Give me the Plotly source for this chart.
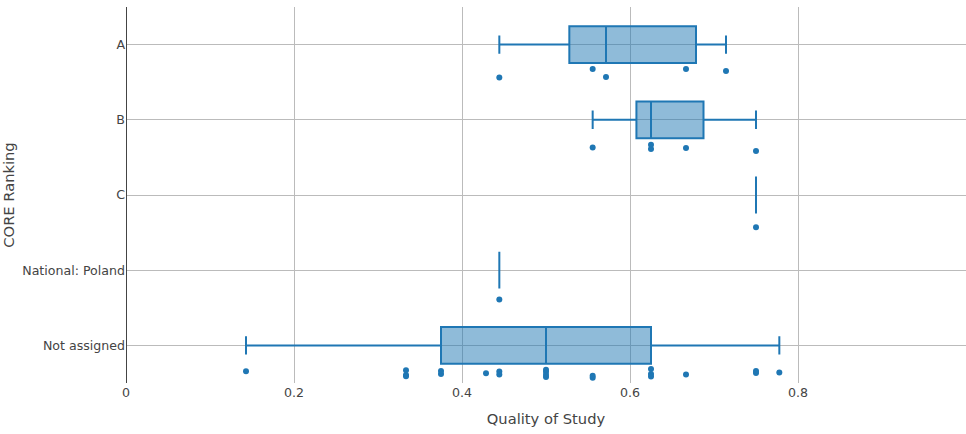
import plotly.graph_objects as go

categories = ["A", "B", "C", "National: Poland", "Not assigned"]
values_a = [4/9, 5/9, 4/7, 2/3, 5/7]
values_b = [5/9, 5/8, 5/8, 2/3, 3/4]
values_c = [3/4]
values_pl = [4/9]
values_na = [1/7, 1/3, 1/3, 1/3, 3/8, 3/8, 3/7, 4/9, 4/9, 1/2, 1/2, 1/2, 1/2,
             5/9, 5/9, 5/8, 5/8, 5/8, 2/3, 3/4, 3/4, 7/9]

groups = [values_a, values_b, values_c, values_pl, values_na]
xs, ys = [], []
for cat, vals in zip(categories, groups):
    xs.extend(vals)
    ys.extend([cat] * len(vals))

fig = go.Figure()
fig.add_trace(go.Box(
    x=xs, y=ys, orientation="h",
    boxpoints="all", jitter=0.3, pointpos=-1.5,
    marker=dict(color="#1f77b4", size=6),
    line=dict(color="#1f77b4", width=2),
    fillcolor="rgba(31,119,180,0.5)",
    showlegend=False,
))

fig.update_layout(
    width=966, height=434,
    margin=dict(l=126, r=0, t=7, b=51),
    paper_bgcolor="white", plot_bgcolor="white",
    font=dict(family="DejaVu Sans", size=12.6, color="#444"),
    boxmode="group", boxgap=0.3, boxgroupgap=0.3,
    xaxis=dict(title=dict(text="Quality of Study", font=dict(size=14.7)), range=[0, 1], dtick=0.2,
               showgrid=True, gridcolor="#bbbbbb", gridwidth=1, automargin=False,
               zeroline=True, zerolinecolor="#444", zerolinewidth=1),
    yaxis=dict(title=dict(text="CORE Ranking", font=dict(size=14.7)),
               categoryorder="array", categoryarray=categories[::-1],
               range=[-0.5, 4.5], automargin=False,
               showgrid=True, gridcolor="#bbbbbb", gridwidth=1, zeroline=False),
)

fig.write_html("out.html", config={"displayModeBar": False},
               post_script="document.body.style.margin='0';")
